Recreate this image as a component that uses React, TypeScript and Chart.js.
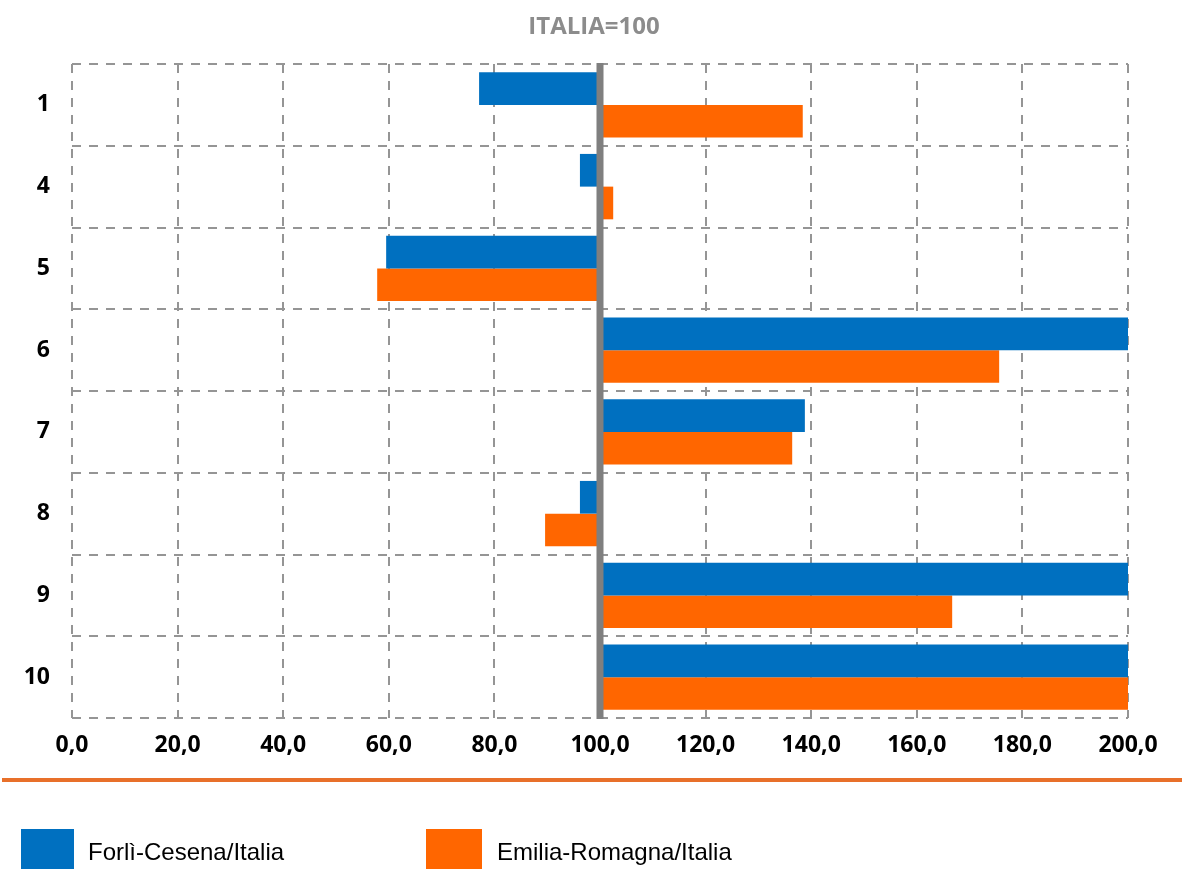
import React, { useEffect, useRef } from "react";
import { Chart, registerables } from "chart.js";

Chart.register(...registerables);

// ---- data ----
const categories = ["1", "4", "5", "6", "7", "8", "9", "10"];
const forliCesenaValues = [77.1, 96.2, 59.5, 200, 138.8, 96.2, 200, 200];
const emiliaRomagnaValues = [138.4, 102.5, 57.8, 175.6, 136.4, 89.6, 166.7, 200];
const baseValue = 100;
const xMin = 0;
const xMax = 200;
const xStep = 20;
const seriesLabels = ["Forlì-Cesena/Italia", "Emilia-Romagna/Italia"];
const titleText = "ITALIA=100";

const BLUE = "#0070C0";
const ORANGE = "#FF6600";
const GRID = "#959595";

const baseLinePlugin = {
  id: "baseLine",
  afterDatasetsDraw(chart: any) {
    const { ctx, chartArea, scales } = chart;
    const x = scales.x.getPixelForValue(baseValue);
    ctx.save();
    ctx.fillStyle = "#7F7F7F";
    ctx.fillRect(x - 3.5, chartArea.top - 1, 7, chartArea.bottom - chartArea.top + 2);
    ctx.restore();
  },
};

export default function App() {
  const canvasRef = useRef<HTMLCanvasElement | null>(null);

  useEffect(() => {
    const canvas = canvasRef.current;
    if (!canvas) return;
    const chart = new Chart(canvas, {
      type: "bar",
      data: {
        labels: categories,
        datasets: [
          {
            label: seriesLabels[0],
            data: forliCesenaValues.map((v) => [baseValue, v]) as any,
            backgroundColor: BLUE,
            borderWidth: 0,
            categoryPercentage: 0.8,
            barPercentage: 1.0,
          },
          {
            label: seriesLabels[1],
            data: emiliaRomagnaValues.map((v) => [baseValue, v]) as any,
            backgroundColor: ORANGE,
            borderWidth: 0,
            categoryPercentage: 0.8,
            barPercentage: 1.0,
          },
        ],
      },
      options: {
        indexAxis: "y",
        responsive: false,
        animation: false,
        layout: { padding: { left: 0, right: 54, top: 64, bottom: 91 } },
        plugins: {
          legend: { display: false },
          tooltip: { enabled: false },
          title: { display: false },
        },
        scales: {
          x: {
            type: "linear",
            min: xMin,
            max: xMax,
            ticks: {
              stepSize: xStep,
              color: "#000",
              font: { family: "'Open Sans'", size: 23, weight: "bold" },
              padding: 14,
              callback: (v: any) => Number(v).toFixed(1).replace(".", ","),
            },
            grid: { color: GRID, lineWidth: 2, drawTicks: false },
            border: { display: false, dash: [9, 8] },
            afterFit: (s: any) => {
              s.height = 60;
            },
          },
          y: {
            type: "category",
            ticks: {
              color: "#000",
              font: { family: "'Open Sans'", size: 23, weight: "bold" },
              padding: 22,
            },
            grid: { color: GRID, lineWidth: 2, drawTicks: false, offset: true },
            border: { display: false, dash: [9, 8] },
            afterFit: (s: any) => {
              s.width = 72;
            },
          },
        },
      },
      plugins: [baseLinePlugin],
    });
    return () => chart.destroy();
  }, []);

  return (
    <div
      style={{
        position: "absolute",
        left: 0,
        top: 0,
        width: 1182,
        height: 869,
        overflow: "hidden",
        background: "#fff",
      }}
    >
      <canvas ref={canvasRef} width={1182} height={869} style={{ position: "absolute", left: 0, top: 0 }} />
      <div
        style={{
          position: "absolute",
          left: 0,
          top: 11,
          width: 1188,
          textAlign: "center",
          fontFamily: "'Open Sans', sans-serif",
          fontWeight: "bold",
          fontSize: 24,
          lineHeight: "28.8px",
          color: "#8C8C8C",
          whiteSpace: "nowrap",
        }}
      >
        {titleText}
      </div>
      <div
        style={{
          position: "absolute",
          left: 2,
          top: 778,
          width: 1180,
          height: 4,
          background: "#E8702A",
        }}
      />
      <div style={{ position: "absolute", left: 21, top: 829, width: 53, height: 45, background: BLUE }} />
      <div
        style={{
          position: "absolute",
          left: 88,
          top: 838,
          fontFamily: "'Liberation Sans', Arial, sans-serif",
          fontSize: 24,
          lineHeight: "28px",
          color: "#000",
          whiteSpace: "nowrap",
        }}
      >
        {seriesLabels[0]}
      </div>
      <div style={{ position: "absolute", left: 426, top: 829, width: 56, height: 45, background: ORANGE }} />
      <div
        style={{
          position: "absolute",
          left: 497,
          top: 838,
          fontFamily: "'Liberation Sans', Arial, sans-serif",
          fontSize: 24,
          lineHeight: "28px",
          color: "#000",
          whiteSpace: "nowrap",
        }}
      >
        {seriesLabels[1]}
      </div>
    </div>
  );
}
